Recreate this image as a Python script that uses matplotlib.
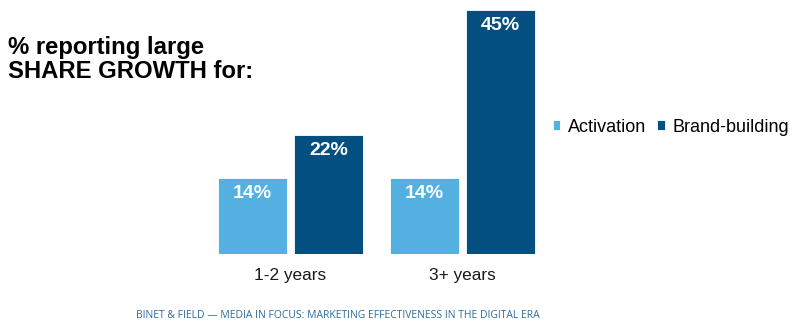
import matplotlib
matplotlib.use("Agg")
import matplotlib.pyplot as plt
import numpy as np

categories = ["1-2 years", "3+ years"]
activation = [14, 14]
brand_building = [22, 45]
series_names = ["Activation", "Brand-building"]
colors = ["#53B0E1", "#034F80"]

plt.rcParams["font.family"] = ["Liberation Sans", "DejaVu Sans"]

W, H = 800, 328
fig = plt.figure(figsize=(W / 100, H / 100), dpi=100)
fig.patch.set_facecolor("white")

# axes placed in pixel terms
x0_px, x1_px = 170.1, 582.9
y0_px, y1_px = 74, 318
ax = fig.add_axes([x0_px / W, y0_px / H, (x1_px - x0_px) / W, (y1_px - y0_px) / H])
ax.set_xlim(-0.7, 1.7)
ax.set_ylim(0, 45)

x = np.arange(len(categories))
width = 0.401
offset = 0.221
bars = []
for vals, off, col in zip([activation, brand_building], [-offset, offset], colors):
    b = ax.bar(x + off, vals, width, color=col, edgecolor="white", linewidth=0.6)
    bars.append(b)
    for rect, v in zip(b, vals):
        ax.text(rect.get_x() + rect.get_width() / 2, v - 1.3, f"{v}%",
                ha="center", va="top", color="white", fontsize=14, fontweight="bold")

for s in ax.spines.values():
    s.set_visible(False)
ax.set_yticks([])
ax.set_xticks(x)
ax.set_xticklabels(categories, fontsize=12.4, color="#1a1a1a")
ax.tick_params(axis="x", length=0, pad=10)

# title
fig.text(8 / W, 1 - 78 / H, "% reporting large\nSHARE GROWTH for:", ha="left",
         va="baseline", fontsize=17.2, fontweight="bold", color="black",
         linespacing=1.05)

# legend
fig.legend([bars[0][0], bars[1][0]], series_names, loc="center left",
           bbox_to_anchor=(553 / W, 1 - 127 / H), ncol=2, frameon=False,
           fontsize=13, handlelength=0.4, handleheight=0.4, handletextpad=0.45,
           columnspacing=0.6, borderpad=0, borderaxespad=0)

# footer
fig.text(338 / W, 1 - 316 / H,
         "BINET & FIELD \u2014 MEDIA IN FOCUS: MARKETING EFFECTIVENESS IN THE DIGITAL ERA",
         ha="center", va="center", fontsize=7.5, color="#2F6B9C", family="Open Sans")

fig.savefig("out.png", dpi=100, facecolor="white")
